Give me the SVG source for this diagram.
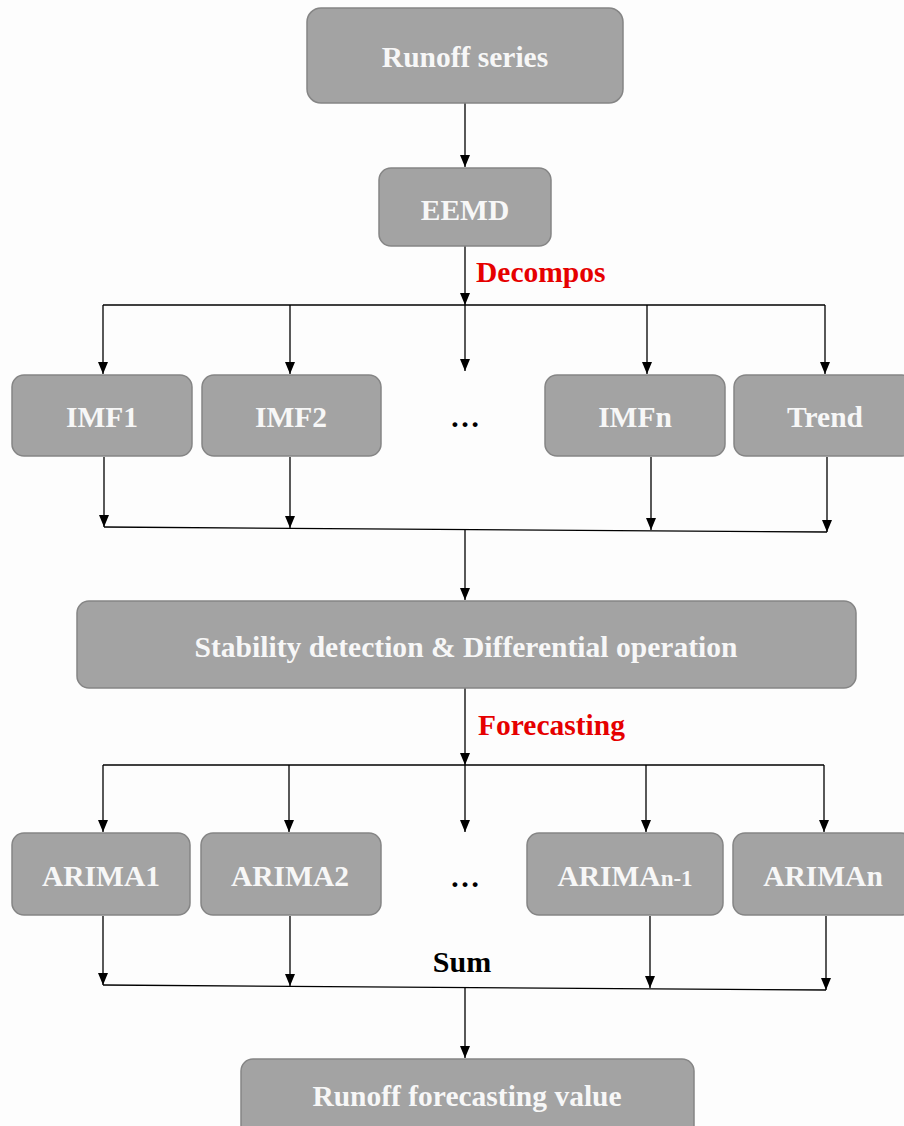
<svg xmlns="http://www.w3.org/2000/svg" width="904" height="1126" viewBox="0 0 904 1126">
<defs>
<marker id="ah" markerWidth="12" markerHeight="10" refX="12" refY="5" orient="auto" markerUnits="userSpaceOnUse" viewBox="0 0 12 10">
<path d="M0,0 L12,5 L0,10 Z" fill="#000"/>
</marker>
</defs>
<style>
.box{fill:#a3a3a3;stroke:#858585;stroke-width:1.5}
.t{font-family:"Liberation Serif","Times New Roman",serif;font-weight:bold;font-size:29.5px;fill:#f7f7f7;text-anchor:middle}
.lbl{font-family:"Liberation Serif","Times New Roman",serif;font-weight:bold;font-size:29.5px;fill:#e60000}
.blk{font-family:"Liberation Serif","Times New Roman",serif;font-weight:bold;font-size:30px;fill:#000;text-anchor:middle}
.c{stroke:#000;stroke-width:1.3;fill:none}
.a{stroke:#000;stroke-width:1.3;fill:none;marker-end:url(#ah)}
</style>
<rect width="904" height="1126" fill="#fdfdfd"/>
<g id="connectors">
<line class="a" x1="465" y1="103" x2="465" y2="167"/>
<line class="a" x1="465" y1="246" x2="465" y2="305"/>
<line class="c" x1="103" y1="305" x2="825" y2="305"/>
<line class="a" x1="103" y1="305" x2="103" y2="374"/>
<line class="a" x1="290" y1="305" x2="290" y2="374"/>
<line class="a" x1="465" y1="305" x2="465" y2="371"/>
<line class="a" x1="647" y1="305" x2="647" y2="374"/>
<line class="a" x1="825" y1="305" x2="825" y2="374"/>
<line class="a" x1="104" y1="457" x2="104" y2="527"/>
<line class="a" x1="290" y1="457" x2="290" y2="528"/>
<line class="a" x1="651" y1="457" x2="651" y2="530"/>
<line class="a" x1="827" y1="457" x2="827" y2="532"/>
<line class="c" x1="104" y1="527" x2="827" y2="532"/>
<line class="a" x1="465" y1="529" x2="465" y2="600"/>
<line class="a" x1="465" y1="688" x2="465" y2="765"/>
<line class="c" x1="103" y1="765" x2="824" y2="765"/>
<line class="a" x1="103" y1="765" x2="103" y2="832"/>
<line class="a" x1="289" y1="765" x2="289" y2="832"/>
<line class="a" x1="465" y1="765" x2="465" y2="832"/>
<line class="a" x1="646" y1="765" x2="646" y2="832"/>
<line class="a" x1="824" y1="765" x2="824" y2="832"/>
<line class="a" x1="103" y1="916" x2="103" y2="985"/>
<line class="a" x1="290" y1="916" x2="290" y2="986"/>
<line class="a" x1="650" y1="916" x2="650" y2="988"/>
<line class="a" x1="826" y1="916" x2="826" y2="990"/>
<line class="c" x1="103" y1="985" x2="826" y2="990"/>
<line class="a" x1="465" y1="987" x2="465" y2="1058"/>
</g>
<g id="lbl-decompos"><text class="lbl" x="476" y="282">Decompos</text></g>
<g id="lbl-forecasting"><text class="lbl" x="478" y="735">Forecasting</text></g>
<g id="lbl-sum"><text class="blk" x="462" y="972">Sum</text></g>
<g id="dots1"><text class="blk" x="465" y="427">…</text></g>
<g id="dots2"><text class="blk" x="465" y="887">…</text></g>
<g id="n-runoff"><rect class="box" x="307" y="8" width="316" height="95" rx="14"/><text class="t" x="465" y="67">Runoff series</text></g>
<g id="n-eemd"><rect class="box" x="379" y="168" width="172" height="78" rx="12"/><text class="t" x="465" y="220">EEMD</text></g>
<g id="n-imf1"><rect class="box" x="12" y="375" width="180" height="81" rx="12"/><text class="t" x="102" y="427">IMF1</text></g>
<g id="n-imf2"><rect class="box" x="202" y="375" width="179" height="81" rx="12"/><text class="t" x="291" y="427">IMF2</text></g>
<g id="n-imfn"><rect class="box" x="545" y="375" width="180" height="81" rx="12"/><text class="t" x="635" y="427">IMFn</text></g>
<g id="n-trend"><rect class="box" x="734" y="375" width="180" height="81" rx="12"/><text class="t" x="825" y="427">Trend</text></g>
<g id="n-stab"><rect class="box" x="77" y="601" width="779" height="87" rx="12"/><text class="t" x="466" y="657" textLength="543" lengthAdjust="spacingAndGlyphs">Stability detection &amp; Differential operation</text></g>
<g id="n-arima1"><rect class="box" x="12" y="833" width="178" height="82" rx="12"/><text class="t" x="101" y="886">ARIMA1</text></g>
<g id="n-arima2"><rect class="box" x="201" y="833" width="180" height="82" rx="12"/><text class="t" x="290" y="886">ARIMA2</text></g>
<g id="n-arimanm1"><rect class="box" x="527" y="833" width="196" height="82" rx="12"/><text class="t" x="625" y="886">ARIMA<tspan font-size="23">n-1</tspan></text></g>
<g id="n-ariman"><rect class="box" x="733" y="833" width="180" height="82" rx="12"/><text class="t" x="823" y="886">ARIMAn</text></g>
<g id="n-final"><rect class="box" x="241" y="1059" width="453" height="80" rx="12"/><text class="t" x="467" y="1106">Runoff forecasting value</text></g>
</svg>
